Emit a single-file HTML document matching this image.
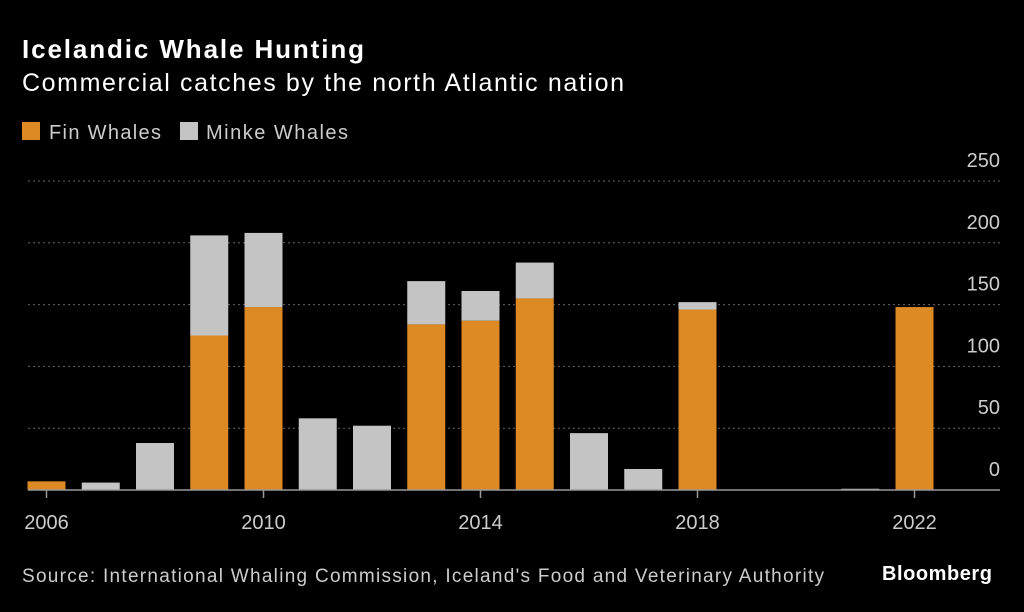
<!DOCTYPE html>
<html><head><meta charset="utf-8"><style>
body{margin:0;background:#000;width:1024px;height:607px;overflow:hidden;font-family:"Liberation Sans",sans-serif;color:#fff}
</style></head><body>
<svg width="1024" height="607" id="c" font-family="Liberation Sans, sans-serif">
<text x="22" y="58" font-size="26" font-weight="bold" fill="#fff" textLength="342">Icelandic Whale Hunting</text>
<text x="22" y="91" font-size="25" fill="#fff" textLength="602">Commercial catches by the north Atlantic nation</text>
<rect x="22" y="122" width="18" height="18" fill="#dd8a25"/>
<text x="49" y="139" font-size="20" fill="#ccc" textLength="112">Fin Whales</text>
<rect x="180" y="122" width="18" height="18" fill="#c4c4c4"/>
<text x="206" y="139" font-size="20" fill="#ccc" textLength="142">Minke Whales</text>
<g id="grid"></g><g id="bars"></g><g id="xaxis"></g>
<text x="22" y="582" font-size="19" fill="#ccc" textLength="802">Source: International Whaling Commission, Iceland's Food and Veterinary Authority</text>
<text x="992" y="580" font-size="20" font-weight="bold" fill="#fff" text-anchor="end" textLength="110">Bloomberg</text>
</svg>
<script>
const years=[2006,2007,2008,2009,2010,2011,2012,2013,2014,2015,2016,2017,2018,2019,2020,2021,2022];
const fin=[7,0,0,125,148,0,0,134,137,155,0,0,146,0,0,0,148];
const minke=[0,6,38,81,60,58,52,35,24,29,46,17,6,0,0,1,0];
const yTicks=[0,50,100,150,200,250];
const xTicks=[2006,2010,2014,2018,2022];
const NS="http://www.w3.org/2000/svg";
const y=v=>490-v*(490-181)/250;
const x=yr=>46.5+(yr-2006)*54.25;
const bw=38;
function mk(t,a,p){const e=document.createElementNS(NS,t);for(const k in a)e.setAttribute(k,a[k]);document.getElementById(p).appendChild(e);return e;}
yTicks.forEach(v=>{
 if(v>0){const l=mk('line',{x1:28,x2:1000,y1:y(v),y2:y(v),stroke:'#666','stroke-dasharray':'2,3'},'grid');
 
 }
 const t=mk('text',{x:1000,y:y(v)-14,'font-size':20,fill:'#ccc','text-anchor':'end'},'grid');t.textContent=v;
 
 
});
years.forEach((yr,i)=>{
 if(fin[i]>0){const r=mk('rect',{x:x(yr)-bw/2,y:y(fin[i]),width:bw,height:y(0)-y(fin[i]),fill:'#dd8a25'},'bars');
 
 }
 if(minke[i]>0){const r=mk('rect',{x:x(yr)-bw/2,y:y(fin[i]+minke[i]),width:bw,height:y(fin[i])-y(fin[i]+minke[i]),fill:'#c4c4c4'},'bars');
 
 }
});
const ax=mk('line',{x1:28,x2:1000,y1:490,y2:490,stroke:'#999','stroke-width':1.5},'xaxis');


xTicks.forEach(yr=>{
 const tk=mk('line',{x1:x(yr),x2:x(yr),y1:490,y2:498,stroke:'#999','stroke-width':1.5},'xaxis');
 
 
 const t=mk('text',{x:x(yr),y:529,'font-size':20,fill:'#ccc','text-anchor':'middle'},'xaxis');t.textContent=yr;
 
 
});
</script>
</body></html>
